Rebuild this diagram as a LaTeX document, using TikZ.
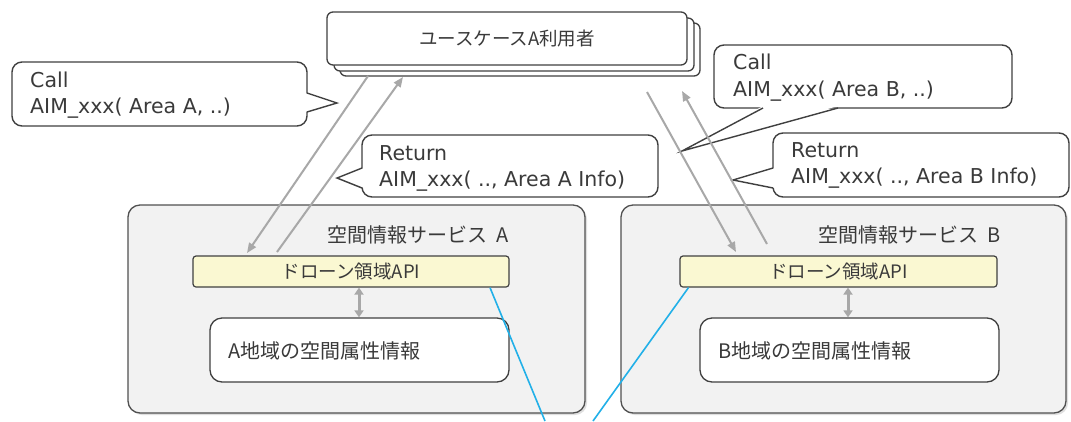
\documentclass[tikz,border=0pt]{standalone}
\usepackage{fontspec}
\setmainfont{DejaVu Sans}
\newfontfamily\jp{Noto Sans CJK JP}
\usetikzlibrary{arrows.meta,shadows}
\definecolor{txt}{HTML}{3A3A3A}
\definecolor{boxline}{HTML}{404040}
\definecolor{svcline}{HTML}{505050}
\definecolor{svcfill}{HTML}{F2F2F2}
\definecolor{apifill}{HTML}{FAF8D2}
\definecolor{arrowgray}{HTML}{A8A8A8}
\definecolor{linkblue}{HTML}{22B0E8}
\tikzset{
  userbox/.style={draw=boxline, line width=1.3pt, fill=white, rounded corners=6pt,
    minimum width=360pt, minimum height=53pt, inner sep=0pt},
  callframe/.style={draw=boxline, line width=1.4pt, fill=white, rounded corners=10pt, inner sep=0pt},
  pointerfill/.style={fill=white},
  pointerline/.style={draw=boxline, line width=1.4pt, line join=miter},
  svcbox/.style={draw=svcline, line width=1.3pt, fill=svcfill, rounded corners=12pt, inner sep=0pt,
    drop shadow={opacity=0.25, shadow xshift=2pt, shadow yshift=-2pt}},
  apibox/.style={draw=boxline, line width=1.2pt, fill=apifill, rounded corners=3pt, inner sep=0pt},
  databox/.style={draw=boxline, line width=1.3pt, fill=white, rounded corners=12pt, inner sep=0pt},
  flow/.style={draw=arrowgray, line width=2pt, -{Triangle[length=10pt,width=8pt]}},
  linkarrow/.style={draw=arrowgray, line width=3pt, {Triangle[length=7pt,width=9pt]}-{Triangle[length=7pt,width=9pt]}},
  bluelink/.style={draw=linkblue, line width=1.6pt},
  lbl/.style={font=\fontsize{20.5}{26.5}\selectfont, text=txt, align=left, inner sep=0pt},
  jplbl/.style={font=\jp\fontsize{18.5}{24}\selectfont, text=txt, inner sep=0pt},
  jpbig/.style={font=\jp\fontsize{20}{24}\selectfont, text=txt, inner sep=0pt},
}
\begin{document}
\begin{tikzpicture}[x=1pt,y=-1pt]
\useasboundingbox[fill=white] (0,0) rectangle (1071,421);

% ---------- user boxes (stack) ----------
\node[userbox] (user3) at (520,49.5) {};
\node[userbox] (user2) at (514,44.5) {};
\node[userbox, jplbl, draw=boxline, fill=white] (user) at (507,38.5) {ユースケースA利用者};

% ---------- service boxes ----------
\node[svcbox, minimum width=457pt, minimum height=208pt] (svcA) at (356.5,309) {};
\node[svcbox, minimum width=445pt, minimum height=208pt] (svcB) at (843.5,309) {};

\node[jpbig, anchor=east] (svcAt) at (509,235) {空間情報サービス\hspace{0.45em}A};
\node[jpbig, anchor=east] (svcBt) at (1001,235) {空間情報サービス\hspace{0.45em}B};

\node[apibox, minimum width=316pt, minimum height=31pt] (apiA) at (351,271.5) {};
\node[jplbl] (apiAt) at (apiA.center) {ドローン領域API};
\node[apibox, minimum width=317pt, minimum height=31pt] (apiB) at (838.5,271.5) {};
\node[jplbl] (apiBt) at (apiB.center) {ドローン領域API};

\node[databox, minimum width=299pt, minimum height=64pt] (dataA) at (359.5,350) {};
\node[jpbig, anchor=west] (dataAt) at (228,351) {A地域の空間属性情報};
\node[databox, minimum width=299pt, minimum height=64pt] (dataB) at (849.5,350) {};
\node[jpbig, anchor=west] (dataBt) at (718,351) {B地域の空間属性情報};

\draw[linkarrow] ([xshift=8pt]apiA.south) -- ([xshift=-0.5pt]dataA.north);
\draw[linkarrow] ([xshift=9.5pt]apiB.south) -- ([xshift=-1.5pt]dataB.north);

% ---------- blue links ----------
\coordinate (blueA) at (545,421);
\coordinate (blueB) at (593,421);
\draw[bluelink] ([xshift=139pt]apiA.south) -- (blueA);
\draw[bluelink] ([xshift=-150pt]apiB.south) -- (blueB);

% ---------- callouts ----------
% Call A
\node[callframe, minimum width=295pt, minimum height=64pt] (callA) at (159.5,94) {};
\coordinate (callAtip) at (337,103);
\fill[pointerfill] (305,93) -- (callAtip) -- (305,112) -- cycle;
\draw[pointerline] (307,93) -- (callAtip) -- (307,112);
\node[lbl, anchor=west] (callAt) at (30,95) {Call\\AIM\_xxx( Area A, ..)};

% Return A
\node[callframe, minimum width=296pt, minimum height=62pt] (retA) at (510,166) {};
\coordinate (retAtip) at (337,178);
\fill[pointerfill] (364,168) -- (retAtip) -- (364,188) -- cycle;
\draw[pointerline] (362,168) -- (retAtip) -- (362,188);
\node[lbl, anchor=west] (retAt) at (379,168.5) {Return\\AIM\_xxx( .., Area A Info)};

% Call B
\node[callframe, minimum width=298pt, minimum height=63pt] (callB) at (863,76.5) {};
\coordinate (callBtip) at (682,151);
\fill[pointerfill] (763,106) -- (callBtip) -- (838,106) -- cycle;
\draw[pointerline] (763,108) -- (callBtip) -- (838,108);
\node[lbl, anchor=west] (callBt) at (733,77.5) {Call\\AIM\_xxx( Area B, ..)};

% Return B
\node[callframe, minimum width=296pt, minimum height=64pt] (retB) at (921,165) {};
\coordinate (retBtip) at (733,180);
\fill[pointerfill] (775,168) -- (retBtip) -- (775,188) -- cycle;
\draw[pointerline] (773,168) -- (retBtip) -- (773,188);
\node[lbl, anchor=west] (retBt) at (791,165.5) {Return\\AIM\_xxx( .., Area B Info)};

% ---------- gray call / return arrows ----------
\coordinate (cAs) at (368,76);
\coordinate (cAe) at (247,253);
\coordinate (rAs) at (277,252);
\coordinate (rAe) at (403,77);
\coordinate (cBs) at (647,92);
\coordinate (cBe) at (736,252);
\coordinate (rBs) at (767,244);
\coordinate (rBe) at (682,91);
\draw[flow] (cAs) -- (cAe);
\draw[flow] (rAs) -- (rAe);
\draw[flow] (cBs) -- (cBe);
\draw[flow] (rBs) -- (rBe);
\end{tikzpicture}
\end{document}
